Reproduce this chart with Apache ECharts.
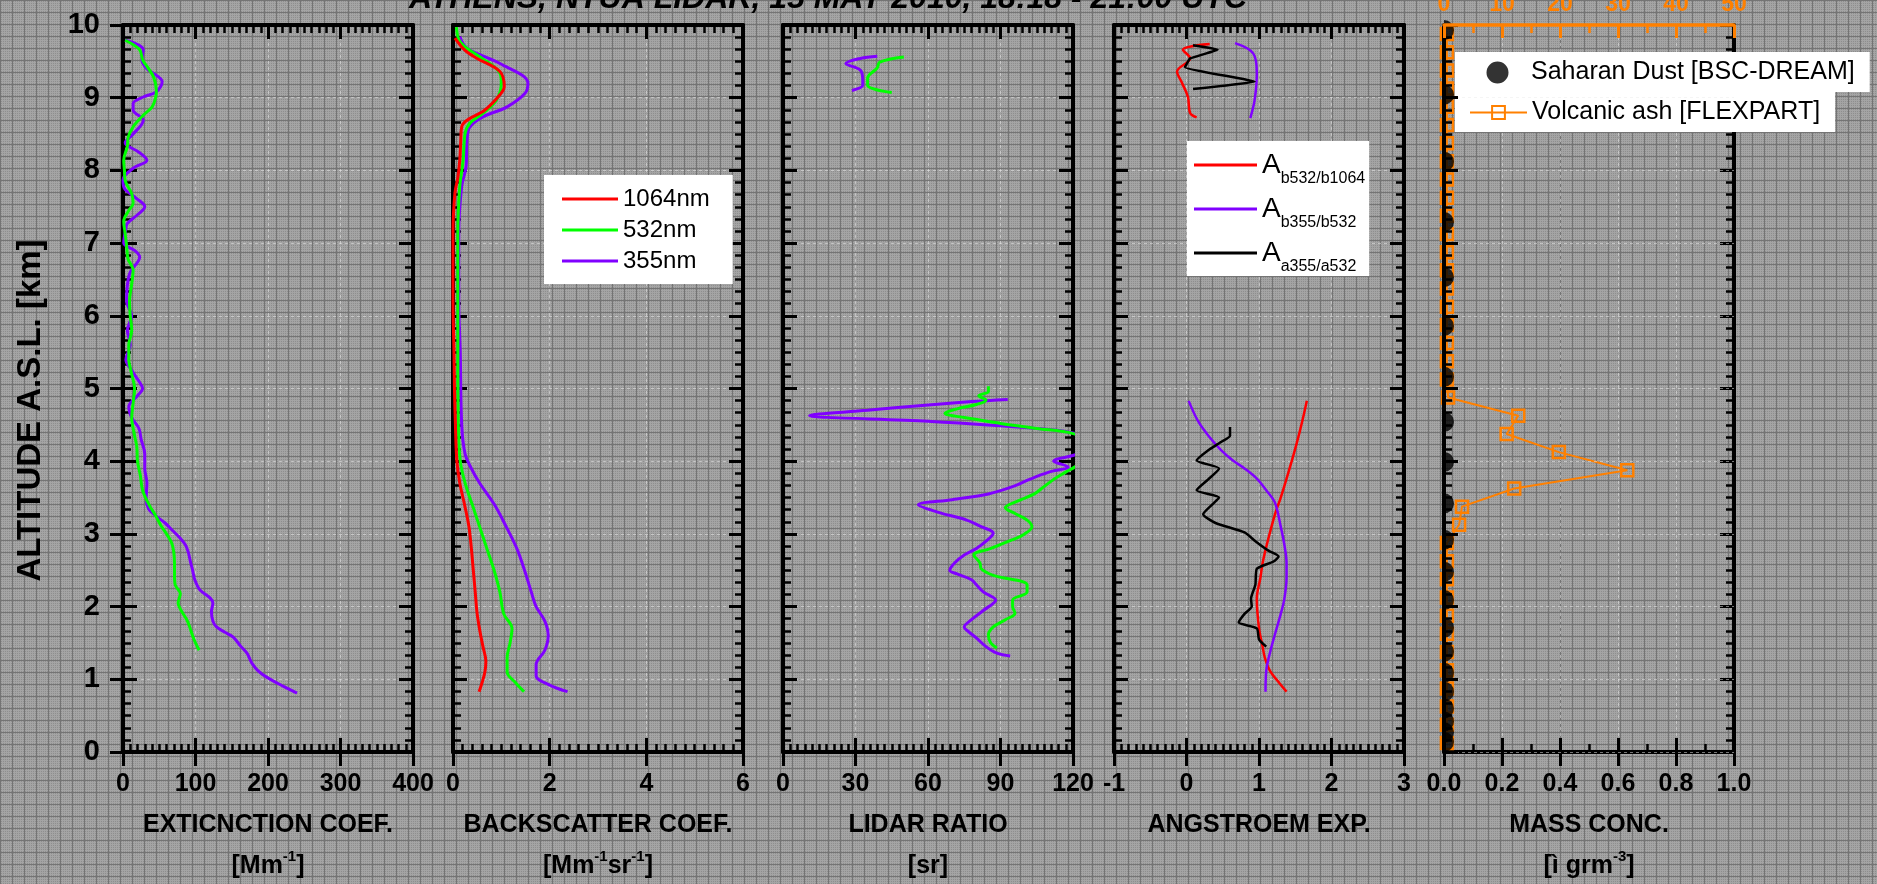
<!DOCTYPE html>
<html><head><meta charset="utf-8">
<script src="https://cdn.jsdelivr.net/npm/echarts@6/dist/echarts.min.js"></script>
<style>html,body{margin:0;padding:0;background:#9a9a9a;overflow:hidden}#c{width:1877px;height:884px}</style>
</head><body><div id="c"></div>
<script>
const FF = '"Liberation Sans", Arial, Helvetica, sans-serif';

// ---------- Panel 1: extinction coefficient [Mm^-1] ----------
const ext355Alt = [0.81,0.9,1.03,1.12,1.22,1.3,1.36,1.46,1.58,1.65,1.72,1.8,1.93,2.05,2.12,2.23,2.37,2.5,2.62,2.75,2.85,2.95,3.05,3.15,3.25,3.35,3.5,3.7,3.9,4.1,4.3,4.45,4.6,4.75,4.9,5.0,5.1,5.25,5.4,5.6,5.8,6.0,6.2,6.42,6.6,6.81,6.9,7.0,7.15,7.27,7.39,7.5,7.62,7.75,7.87,8.03,8.14,8.25,8.38,8.5,8.69,8.83,8.92,9.01,9.08,9.22,9.4,9.52,9.66,9.79];
const ext355 = [240,222,198,186,178,174,171,162,152,140,129,124,122,124,120,106,99,96,93,90,86,78,68,58,45,35,32,33,30,30,25,22,12,8,20,27,22,12,4,10,6,12,5,6,10,23,16,1,3,6,20,30,18,2,0,14,33,22,3,14,28,14,14,28,46,54,33,26,28,3];
const ext532Alt = [1.4,1.5,1.6,1.72,1.82,1.95,2.05,2.18,2.3,2.45,2.6,2.75,2.88,3.0,3.12,3.25,3.4,3.6,3.8,4.0,4.2,4.4,4.6,4.8,5.0,5.2,5.4,5.6,5.8,6.0,6.2,6.44,6.63,6.78,6.96,7.13,7.3,7.45,7.55,7.68,7.86,8.0,8.14,8.33,8.45,8.6,8.76,8.87,9.0,9.1,9.29,9.43,9.52,9.66,9.79];
const ext532 = [105,100,96,92,88,80,76,79,72,71,71,70,67,60,52,45,36,27,24,20,19,15,12,14,16,12,8,8,12,10,9,12,14,7,5,3,1,8,14,12,3,2,1,6,7,14,28,40,45,46,42,33,27,23,3];

// ---------- Panel 2: backscatter coefficient [Mm^-1 sr^-1] ----------
const bsc1064Alt = [0.83,0.95,1.1,1.25,1.45,1.65,1.9,2.2,2.5,2.8,3.1,3.4,3.7,4.0,4.5,5.0,5.5,6.2,7.14,7.69,7.9,8.14,8.4,8.6,8.69,8.83,9.04,9.15,9.36,9.54,9.65,9.82];
const bsc1064 = [0.54,0.6,0.66,0.68,0.62,0.56,0.5,0.46,0.42,0.38,0.33,0.24,0.14,0.08,0.05,0.03,0.02,0,0,0.04,0.1,0.14,0.16,0.18,0.29,0.66,0.97,1.06,0.97,0.5,0.25,0.04];
const bsc532Alt = [0.83,0.95,1.1,1.3,1.5,1.7,1.9,2.2,2.5,2.8,3.1,3.4,3.7,4.0,4.5,5.5,6.2,7.14,7.78,8.14,8.51,8.65,8.79,8.97,9.2,9.34,9.56,9.7,9.8,9.97];
const bsc532 = [1.47,1.3,1.12,1.12,1.18,1.22,1.05,0.97,0.85,0.7,0.55,0.4,0.25,0.15,0.11,0.1,0.1,0.1,0.14,0.21,0.25,0.35,0.63,0.9,1.0,0.97,0.56,0.25,0.12,0.07];
const bsc355Alt = [0.83,0.92,1.05,1.2,1.4,1.6,1.8,2.0,2.2,2.5,2.8,3.1,3.4,3.7,3.9,4.1,4.5,5.5,6.2,7.14,7.78,8.05,8.42,8.6,8.74,8.87,9.06,9.2,9.47,9.68,9.84];
const bsc355 = [2.37,2.0,1.72,1.72,1.9,1.97,1.9,1.72,1.62,1.48,1.32,1.1,0.86,0.55,0.38,0.25,0.18,0.15,0.12,0.12,0.18,0.27,0.29,0.35,0.63,1.11,1.49,1.55,0.97,0.29,0.14];

// ---------- Panel 3: lidar ratio [sr] ----------
const lr355LowAlt = [1.32,1.36,1.45,1.57,1.65,1.72,1.82,1.95,2.09,2.2,2.3,2.37,2.45,2.5,2.6,2.71,2.8,2.9,3.01,3.1,3.19,3.3,3.4,3.47,3.55,3.65,3.75,3.85,3.92,4.0,4.1,4.2,4.3,4.39,4.45,4.55,4.63,4.7,4.76,4.82,4.85];
const lr355Low = [94,88.5,84,80,77,75,78,83,88,83,80,78,72,69,71,75,80,84,87,82,76,64,56,70,85,95,102,110,118,112,122,126,126,120,105,60,11,35,55,78,93];
const lr532LowAlt = [1.43,1.5,1.61,1.72,1.82,1.91,2.0,2.09,2.2,2.3,2.43,2.52,2.6,2.71,2.8,2.92,3.0,3.1,3.19,3.28,3.36,3.45,3.55,3.65,3.75,3.85,3.95,4.1,4.25,4.38,4.45,4.52,4.6,4.66,4.72,4.78,4.84,4.9,4.96,5.03];
const lr532Low = [88.5,86,85,87,92,96,95,95,101,101,87,82,81.5,79,86,95,100,103,101,96,92,97,104,108,112,117,122,126,126,120,105,90,75,67,72,80,84,81,85,85];
const lr355TopAlt = [9.1,9.17,9.24,9.38,9.47,9.54,9.57];
const lr355Top = [28.5,33,33,32,26,32,39];
const lr532TopAlt = [9.07,9.17,9.27,9.41,9.49,9.56];
const lr532Top = [45,35,35,39,40,50];

// ---------- Panel 4: Angstroem exponent ----------
const aeRedLowAlt = [0.83,0.95,1.12,1.3,1.45,1.7,2.11,2.4,2.6,2.9,3.27,3.5,3.76,4.1,4.4,4.65,4.83];
const aeRedLow = [1.38,1.28,1.15,1.08,1.05,1.0,0.97,1.02,1.05,1.12,1.22,1.3,1.38,1.48,1.56,1.62,1.66];
const aeRedTopAlt = [8.73,8.79,9.01,9.2,9.36,9.54,9.66,9.74];
const aeRedTop = [0.14,0.05,0.02,-0.06,-0.13,0.05,-0.05,0.32];
const aePurLowAlt = [0.83,1.12,1.4,1.62,1.9,2.11,2.4,2.6,2.85,3.1,3.43,3.6,3.76,3.9,4.01,4.15,4.34,4.55,4.83];
const aePurLow = [1.09,1.1,1.16,1.22,1.3,1.35,1.38,1.38,1.35,1.3,1.22,1.1,0.97,0.8,0.64,0.48,0.31,0.16,0.03];
const aePurTopAlt = [8.72,8.97,9.34,9.61,9.75];
const aePurTop = [0.88,0.94,0.97,0.92,0.67];
const aeBlkLowAlt = [1.45,1.55,1.7,1.78,1.9,2.0,2.11,2.3,2.52,2.62,2.69,2.77,2.9,3.02,3.15,3.27,3.4,3.5,3.6,3.75,3.9,4.01,4.15,4.26,4.35,4.47];
const aeBlkLow = [1.1,1.0,0.97,0.72,0.8,0.9,0.89,0.95,0.97,1.2,1.27,1.13,0.95,0.8,0.4,0.23,0.35,0.45,0.14,0.3,0.45,0.14,0.3,0.47,0.6,0.6];
const aeBlkTopAlt = [9.12,9.22,9.42,9.54,9.66,9.72];
const aeBlkTop = [0.09,0.94,-0.02,0.05,0.43,0.09];

// ---------- Panel 5: mass concentration ----------
const dustAlt = [0.14,0.27,0.42,0.6,0.83,1.09,1.38,1.71,2.09,2.48,2.92,3.42,3.99,4.54,5.16,5.86,6.53,7.29,8.12,9.04,9.93];
const dust = [0,0,0,0,0,0,0,0,0,0,0,0,0,0,0,0,0,0,0,0,0];
const ashAlt = [0.125,0.375,0.625,0.875,1.125,1.375,1.625,1.875,2.125,2.375,2.625,2.875,3.125,3.375,3.625,3.875,4.125,4.375,4.625,4.875,5.125,5.375,5.625,5.875,6.125,6.375,6.625,6.875,7.125,7.375,7.625,7.875,8.125,8.375,8.625,8.875,9.125,9.375,9.625,9.875];
const ash = [0.5,0.5,0.5,0.5,0.5,0.5,0.5,0.5,0.5,0.5,0.5,0.5,2.6,3.1,12.1,31.6,19.8,10.8,12.8,0.7,0.5,0.5,0.5,0.5,0.5,0.5,0.5,0.5,0.5,0.5,0.5,0.5,0.5,0.5,0.5,0.5,0.5,0.5,0.5,0.5];

// ---------- texts ----------
const titleText = 'ATHENS, NTUA LIDAR, 15 MAY 2010, 18:18 - 21:00 UTC';
const yName = 'ALTITUDE A.S.L. [km]';
const xNames = [
  '{t|EXTICNCTION COEF.}\n{u|[Mm}{s|-1}{u|]}',
  '{t|BACKSCATTER COEF.}\n{u|[Mm}{s|-1}{u|sr}{s|-1}{u|]}',
  '{t|LIDAR RATIO}\n{u|[sr]}',
  '{t|ANGSTROEM EXP.}',
  '{t|MASS CONC.}\n{u|[ì grm}{s|-3}{u|]}'
];
const xRanges = [[0,400,100,10],[0,6,2,10],[0,120,30,10],[-1,3,1,10],[0,1,0.2,2]];
const topAshRange = [0,50,10,2];

// ---------- layout ----------
const panelLeft = [123,453,783,1114,1444];
const panelW = 290, panelTop = 25, panelH = 727;
const RED='#ff0000', GREEN='#00ff00', PURPLE='#8000ff', BLACK='#000000', ORANGE='#ff8000';

const pairs = (xs, alts) => xs.map((v,i)=>[v, alts[i]]);

// background pattern (hatched grey)
const pc = document.createElement('canvas'); pc.width = 12; pc.height = 12;
const g = pc.getContext('2d');
g.fillStyle = '#a4a4a4'; g.fillRect(0,0,12,12);
g.fillStyle = '#8e8e8e';
for (let i=0;i<12;i+=2) for (let j=0;j<12;j+=2) g.fillRect(i+1,j+1,1,1);
g.fillStyle = '#747474'; g.fillRect(0,0,12,1); g.fillRect(0,0,1,12);

const nameRich = {
  t:{fontSize:25,fontWeight:'bold',color:'#000',lineHeight:30,fontFamily:FF},
  u:{fontSize:25,fontWeight:'bold',color:'#000',lineHeight:52,fontFamily:FF},
  s:{fontSize:15,fontWeight:'bold',color:'#000',lineHeight:15,padding:[0,0,18,0],fontFamily:FF}
};
const splitStyle = {show:true,lineStyle:{color:'rgba(235,235,235,0.5)',width:1,type:[3,3]}};

const grids = [], xAxis = [], yAxis = [];
for (let i=0;i<5;i++) {
  grids.push({left:panelLeft[i], top:panelTop, width:panelW, height:panelH, containLabel:false, outerBoundsMode:'none', show:false});
  const [mn,mx,iv,ms] = xRanges[i];
  const base = {gridIndex:i, type:'value', min:mn, max:mx, interval:iv, nameMoveOverlap:false};
  xAxis.push(Object.assign({}, base, {
    position:'bottom',
    axisLine:{show:true,onZero:false,lineStyle:{color:'#000',width:4}},
    axisTick:{show:true,inside:false,length:14,lineStyle:{color:'#000',width:3}},
    minorTick:{show:false},
    axisLabel:{show:true,margin:20,fontSize:25,fontWeight:'bold',color:'#000',fontFamily:FF,showMinLabel:true,showMaxLabel:true,hideOverlap:false,
      formatter: i===4 ? (v=>v.toFixed(1)) : (v=>String(Math.round(v*1000)/1000))},
    splitLine:splitStyle,
    name:xNames[i], nameLocation:'middle', nameGap:58,
    nameTextStyle:{rich:nameRich, align:'center'}
  }));
  xAxis.push(Object.assign({}, base, {
    position:'bottom',
    axisLine:{show:false,onZero:false},
    axisTick:{show:true,inside:true,length:14,lineStyle:{color:'#000',width:3}},
    minorTick:{show:true,splitNumber:ms,length:8,lineStyle:{color:'#000',width:2.5}},
    axisLabel:{show:false}, splitLine:{show:false}
  }));
  if (i<4) {
    xAxis.push(Object.assign({}, base, {
      position:'top',
      axisLine:{show:true,onZero:false,lineStyle:{color:'#000',width:4}},
      axisTick:{show:true,inside:true,length:14,lineStyle:{color:'#000',width:3}},
      minorTick:{show:true,splitNumber:ms,length:8,lineStyle:{color:'#000',width:2.5}},
      axisLabel:{show:false}, splitLine:{show:false}
    }));
  } else {
    const [a0,a1,ai,am] = topAshRange;
    xAxis.push({gridIndex:i, type:'value', min:a0, max:a1, interval:ai, position:'top', nameMoveOverlap:false, z:9,
      axisLine:{show:true,onZero:false,lineStyle:{color:ORANGE,width:3.5}},
      axisTick:{show:true,inside:true,length:13,lineStyle:{color:ORANGE,width:3}},
      minorTick:{show:true,splitNumber:am,length:8,lineStyle:{color:ORANGE,width:2.5}},
      axisLabel:{show:true,margin:9,fontSize:23,fontWeight:'bold',color:ORANGE,fontFamily:FF,showMinLabel:true,showMaxLabel:true},
      splitLine:{show:false}
    });
  }
  const ybase = {gridIndex:i, type:'value', min:0, max:10, interval:1, nameMoveOverlap:false};
  yAxis.push(Object.assign({}, ybase, {
    position:'left', z: i===4 ? 8 : 0,
    axisLine:{show:true,onZero:false,lineStyle:{color:'#000',width:4}},
    axisTick:{show:true,inside:true,length:14,lineStyle:{color:'#000',width:3}},
    minorTick:{show:true,splitNumber:6,length:8,lineStyle:{color:'#000',width:2.5}},
    axisLabel:{show:false}, splitLine:splitStyle
  }));
  yAxis.push(Object.assign({}, ybase, {
    position:'right',
    axisLine:{show:true,onZero:false,lineStyle:{color:'#000',width:4}},
    axisTick:{show:true,inside:true,length:14,lineStyle:{color:'#000',width:3}},
    minorTick:{show:true,splitNumber:6,length:8,lineStyle:{color:'#000',width:2.5}},
    axisLabel:{show:false}, splitLine:{show:false}
  }));
}
yAxis.push({gridIndex:0, type:'value', min:0, max:10, interval:1, position:'left', nameMoveOverlap:false,
  axisLine:{show:false,onZero:false},
  axisTick:{show:true,inside:false,length:13,lineStyle:{color:'#000',width:3}},
  axisLabel:{show:true,margin:23,fontSize:29,fontWeight:'bold',color:'#000',fontFamily:FF,showMinLabel:true,showMaxLabel:true},
  splitLine:{show:false},
  name:yName, nameLocation:'middle', nameGap:76, nameRotate:90,
  nameTextStyle:{fontSize:33,fontWeight:'bold',color:'#000',fontFamily:FF,padding:[0,44,0,0]}
});

function line(name, color, width, xs, alts, p, smooth) {
  return {type:'line', name, xAxisIndex:3*p, yAxisIndex:2*p, data:pairs(xs, alts),
    symbol:'none', smooth: smooth==null?0.35:smooth, clip:true, z:5,
    lineStyle:{color, width}, itemStyle:{color}, emphasis:{disabled:true}};
}

const series = [
  line('355nm', PURPLE, 3, ext355, ext355Alt, 0),
  line('532nm', GREEN, 3, ext532, ext532Alt, 0),
  line('355nm', PURPLE, 3, bsc355, bsc355Alt, 1),
  line('532nm', GREEN, 3, bsc532, bsc532Alt, 1),
  line('1064nm', RED, 3, bsc1064, bsc1064Alt, 1),
  line('355nm', PURPLE, 3, lr355Low, lr355LowAlt, 2),
  line('532nm', GREEN, 3, lr532Low, lr532LowAlt, 2),
  line('355nm', PURPLE, 3, lr355Top, lr355TopAlt, 2),
  line('532nm', GREEN, 3, lr532Top, lr532TopAlt, 2),
  line('Ab532/b1064', RED, 2.5, aeRedLow, aeRedLowAlt, 3),
  line('Ab355/b532', PURPLE, 2.5, aePurLow, aePurLowAlt, 3),
  line('Aa355/a532', BLACK, 2.5, aeBlkLow, aeBlkLowAlt, 3, 0.2),
  line('Ab532/b1064', RED, 2.5, aeRedTop, aeRedTopAlt, 3),
  line('Ab355/b532', PURPLE, 2.5, aePurTop, aePurTopAlt, 3),
  line('Aa355/a532', BLACK, 2.5, aeBlkTop, aeBlkTopAlt, 3, 0.1),
  {type:'line', name:'Volcanic ash [FLEXPART]', xAxisIndex:14, yAxisIndex:8, data:pairs(ash, ashAlt),
    symbol:'rect', symbolSize:12, showSymbol:true, smooth:false, clip:false, z:5,
    lineStyle:{color:ORANGE,width:2}, itemStyle:{color:'rgba(255,255,255,0)',borderColor:ORANGE,borderWidth:2.5}, emphasis:{disabled:true}},
  {type:'scatter', name:'Saharan Dust [BSC-DREAM]', xAxisIndex:12, yAxisIndex:8, data:pairs(dust, dustAlt),
    symbol:'path://M0,0A10,10,0,0,1,0,20Z', symbolSize:[10,20], symbolOffset:[5,0], clip:false, z:6,
    itemStyle:{color:'#000'}, emphasis:{disabled:true}}
];

const option = {
  animation:false,
  backgroundColor:{image:pc, repeat:'repeat'},
  grid:grids, xAxis, yAxis, series,
  legend:[
    {data:['1064nm','532nm','355nm'], orient:'vertical', left:544, top:175, padding:[11,23,10,18],
      icon:'rect', itemWidth:56, itemHeight:3, itemGap:5, backgroundColor:'#ffffff', borderWidth:0, selectedMode:false,
      textStyle:{fontSize:24,fontFamily:FF,color:'#000',lineHeight:26}},
    {data:['Ab532/b1064','Ab355/b532','Aa355/a532'], orient:'vertical', left:1187, top:141, padding:[10,4,1,7],
      icon:'rect', itemWidth:63, itemHeight:3, itemGap:8, backgroundColor:'#ffffff', borderWidth:0, selectedMode:false,
      formatter: n => '{a|A}{s|' + n.slice(1) + '}',
      textStyle:{color:'#000',fontFamily:FF, rich:{
        a:{fontSize:28,lineHeight:44,color:'#000',fontFamily:FF},
        s:{fontSize:16,lineHeight:16,verticalAlign:'bottom',color:'#000',fontFamily:FF}}}},
    {data:['Saharan Dust [BSC-DREAM]'], orient:'vertical', left:1455, top:52, padding:[8,15,7,14],
      itemWidth:57, itemHeight:25, icon:'path://M0,0L0.01,0M57,25L56.99,25M39.5,12.5A11,11,0,1,1,17.5,12.5A11,11,0,1,1,39.5,12.5Z',
      backgroundColor:'#ffffff', borderWidth:0, selectedMode:false,
      textStyle:{fontSize:25,fontFamily:FF,color:'#000',lineHeight:25}},
    {data:['Volcanic ash [FLEXPART]'], orient:'vertical', left:1455, top:92, padding:[8,15,7,14],
      itemWidth:57, itemHeight:16, backgroundColor:'#ffffff', borderWidth:0, selectedMode:false,
      textStyle:{fontSize:25,fontFamily:FF,color:'#000',lineHeight:25}}
  ],
  graphic:[
    {type:'text', x:828, y:-1, silent:true, z:10,
      style:{text:titleText, fill:'#000', font:'italic bold 32px ' + FF, align:'center', verticalAlign:'middle', textAlign:'center', textVerticalAlign:'middle'}}
  ]
};

const chart = echarts.init(document.getElementById('c'), null, {renderer:'canvas', width:1877, height:884});
chart.setOption(option);
</script></body></html>
